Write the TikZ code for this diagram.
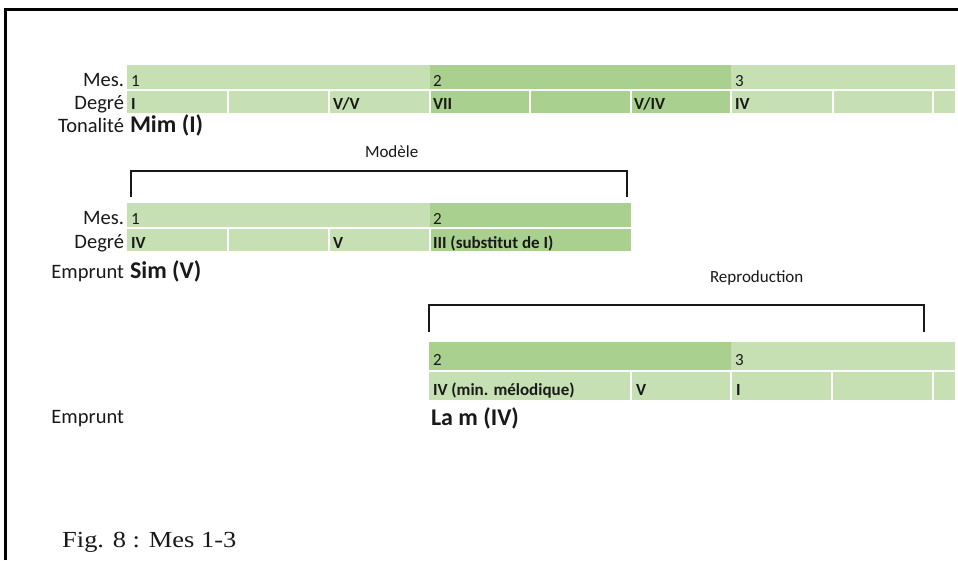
\documentclass[tikz,border=0pt]{standalone}
\usepackage{fontspec}
\setmainfont{Carlito}
\newfontfamily\figfont[FakeStretch=1.15]{Liberation Serif}
\definecolor{lg}{RGB}{198,224,180}
\definecolor{dg}{RGB}{169,208,142}
\definecolor{ink}{RGB}{25,25,25}
\tikzset{
  cellbox/.style={rectangle, inner sep=0pt, outer sep=0pt, draw=none},
  lab/.style={inner sep=0pt, outer sep=0pt, text=ink, font=\fontsize{17}{20}\selectfont},
  rowlab/.style={inner sep=0pt, outer sep=0pt, text=ink, font=\fontsize{20.5}{24}\selectfont},
  celltxt/.style={inner sep=0pt, outer sep=0pt, text=ink, font=\fontsize{17}{20}\selectfont\bfseries},
  big/.style={inner sep=0pt, outer sep=0pt, text=ink, font=\fontsize{24}{28}\selectfont\bfseries},
  brack/.style={draw=ink, line width=2pt},
  frame/.style={draw=black, line width=2.8pt}
}
\newcommand\mcell[6]{% name, x1, x2, ytop, ybot, colour
  \node[cellbox, fill=#6, minimum width={(#3-#2)*1pt}, minimum height={(#5-#4)*1pt}, anchor=north west] (#1) at (#2,#4) {};}
\begin{document}
\begin{tikzpicture}[x=1pt, y=-1pt]
\useasboundingbox (0,0) rectangle (958,560);
\fill[white] (0,0) rectangle (958,560);
% frame
\coordinate (fa) at (5.5,560);
\coordinate (fb) at (5.5,9.7);
\coordinate (fc) at (958,9.7);
\draw[frame] (fa) -- (fb) -- (fc);

% ---------- row 1 ----------
\mcell{r1m1}{127}{430}{65}{89}{lg}
\mcell{r1m2}{430}{731}{65}{89}{dg}
\mcell{r1m3}{731}{955}{65}{89}{lg}
\mcell{r1d1}{127}{227}{91}{113}{lg}
\mcell{r1d2}{229}{328}{91}{113}{lg}
\mcell{r1d3}{330}{429}{91}{113}{lg}
\mcell{r1d4}{431}{529}{91}{113}{dg}
\mcell{r1d5}{531}{630}{91}{113}{dg}
\mcell{r1d6}{632}{730}{91}{113}{dg}
\mcell{r1d7}{732}{832}{91}{113}{lg}
\mcell{r1d8}{834}{932}{91}{113}{lg}
\mcell{r1d9}{934}{955}{91}{113}{lg}
\node[lab, anchor=base west] (t1m1) at (131,86) {1};
\node[lab, anchor=base west] (t1m2) at (433,86) {2};
\node[lab, anchor=base west] (t1m3) at (735,86) {3};
\node[celltxt, anchor=base west] (t1d1) at (131,109) {I};
\node[celltxt, anchor=base west] (t1d3) at (333,109) {V/V};
\node[celltxt, anchor=base west] (t1d4) at (433,109) {VII};
\node[celltxt, anchor=base west] (t1d6) at (634,109) {V/IV};
\node[celltxt, anchor=base west] (t1d7) at (735,109) {IV};
\node[rowlab, anchor=base east] (l1m) at (124,86) {Mes.};
\node[rowlab, anchor=base east] (l1d) at (124,109) {Degré};
\node[rowlab, anchor=base east] (l1t) at (124,132) {Tonalité};
\node[big, anchor=base west] (k1) at (130,132) {Mim (I)};

% ---------- Modèle ----------
\node[lab, anchor=base west] (mod) at (365,157) {Modèle};
\coordinate (ma) at (131,197);
\coordinate (mb) at (131,171);
\coordinate (mc) at (627,171);
\coordinate (md) at (627,197);
\draw[brack] (ma) -- (mb) -- (mc) -- (md);

% ---------- row 2 ----------
\mcell{r2m1}{127}{430}{203}{227}{lg}
\mcell{r2m2}{430}{631}{203}{227}{dg}
\mcell{r2d1}{127}{227}{229}{251}{lg}
\mcell{r2d2}{229}{328}{229}{251}{lg}
\mcell{r2d3}{330}{429}{229}{251}{lg}
\mcell{r2d4}{431}{631}{229}{251}{dg}
\node[lab, anchor=base west] (t2m1) at (131,224) {1};
\node[lab, anchor=base west] (t2m2) at (433,224) {2};
\node[celltxt, anchor=base west] (t2d1) at (131,248) {IV};
\node[celltxt, anchor=base west] (t2d3) at (333,248) {V};
\node[celltxt, anchor=base west] (t2d4) at (433,248) {III (substitut de I)};
\node[rowlab, anchor=base east] (l2m) at (124,224) {Mes.};
\node[rowlab, anchor=base east] (l2d) at (124,248) {Degré};
\node[rowlab, anchor=base east] (l2e) at (124,278) {Emprunt};
\node[big, anchor=base west] (k2) at (130,278) {Sim (V)};

% ---------- Reproduction ----------
\node[lab, anchor=base west] (rep) at (710,282) {Reproduction};
\coordinate (ra) at (429,332);
\coordinate (rb) at (429,305);
\coordinate (rc) at (924,305);
\coordinate (rd) at (924,332);
\draw[brack] (ra) -- (rb) -- (rc) -- (rd);

% ---------- row 3 ----------
\mcell{r3m1}{429}{731}{342}{370}{dg}
\mcell{r3m2}{731}{955}{342}{370}{lg}
\mcell{r3d1}{429}{630}{372}{400}{lg}
\mcell{r3d2}{632}{730}{372}{400}{lg}
\mcell{r3d3}{732}{831}{372}{400}{lg}
\mcell{r3d4}{833}{932}{372}{400}{lg}
\mcell{r3d5}{934}{955}{372}{400}{lg}
\node[lab, anchor=base west] (t3m1) at (433,365) {2};
\node[lab, anchor=base west] (t3m2) at (735,365) {3};
\node[celltxt, anchor=base west] (t3d1) at (433,395) {IV (min. mélodique)};
\node[celltxt, anchor=base west] (t3d2) at (636,395) {V};
\node[celltxt, anchor=base west] (t3d3) at (736,395) {I};
\node[rowlab, anchor=base east] (l3e) at (124,423) {Emprunt};
\node[big, anchor=base west] (k3) at (431,425) {La m (IV)};

% ---------- caption ----------
\node[inner sep=0pt, text=ink, font=\figfont\fontsize{23}{26}\selectfont, anchor=base west] (fig) at (62,547) {Fig. 8 : Mes 1-3};
\end{tikzpicture}
\end{document}
